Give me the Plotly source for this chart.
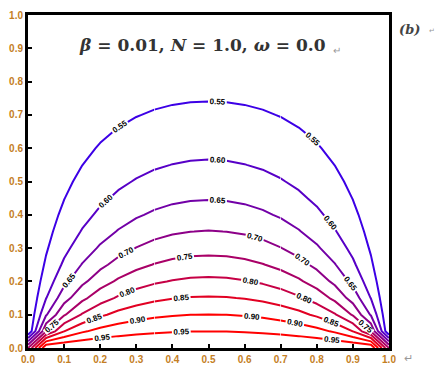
import numpy as np
import plotly.graph_objects as go

# ---- data ----
levels = [0.55, 0.60, 0.65, 0.70, 0.75, 0.80, 0.85, 0.90, 0.95]
bottom_value = 1.0      # value on the lower wall (y = 0)
wall_value = 0.5        # value on the left, right and top walls
n_nodes = 21            # grid nodes per direction (spacing 0.05)
x_ticks = [0.0, 0.1, 0.2, 0.3, 0.4, 0.5, 0.6, 0.7, 0.8, 0.9, 1.0]
y_ticks = [0.0, 0.1, 0.2, 0.3, 0.4, 0.5, 0.6, 0.7, 0.8, 0.9, 1.0]
title_text = "<b><i>β</i> = 0.01, <i>N</i> = 1.0, <i>ω</i> = 0.0</b>"
panel_text = "<b><i>(b)</i></b>"

# ---- steady field on the grid (Laplace solution for these wall values) ----
xs = np.linspace(0, 1, n_nodes)
ys = np.linspace(0, 1, n_nodes)
X, Y = np.meshgrid(xs, ys)
u = np.zeros_like(X)
for n in range(1, 400, 2):
    ratio = np.exp(-n * np.pi * Y) * (1 - np.exp(-2 * n * np.pi * (1 - Y))) / (1 - np.exp(-2 * n * np.pi))
    u += 4 / (n * np.pi) * np.sin(n * np.pi * X) * ratio
Z = wall_value + (bottom_value - wall_value) * u
Z[0, :] = bottom_value
Z[:, 0] = wall_value
Z[:, -1] = wall_value
Z[-1, :] = wall_value
Z[0, 0] = Z[0, -1] = (bottom_value + wall_value) / 2

fig = go.Figure()
# the field is drawn in three column bands so that each band carries its own labels
bands = [(0, 7), (7, 14), (14, n_nodes - 1)]
for i0, i1 in bands:
    fig.add_trace(go.Contour(
        x=xs[i0:i1 + 1], y=ys, z=Z[:, i0:i1 + 1],
        zmin=levels[0], zmax=levels[-1],
        contours=dict(start=levels[0], end=levels[-1], size=0.05, coloring="lines",
                      showlabels=True,
                      labelfont=dict(size=8, color="black", family="Liberation Sans", weight="bold"),
                      labelformat=".2f"),
        colorscale=[[0, "rgb(60,0,230)"], [0.5, "rgb(155,0,120)"], [1, "rgb(255,0,0)"]],
        line=dict(width=2, smoothing=0),
        showscale=False,
        hoverinfo="skip",
    ))

axis_common = dict(range=[0, 1], showline=True, linewidth=3, linecolor="black", mirror=True,
                   ticks="inside", ticklen=4, tickwidth=2, tickcolor="black",
                   showgrid=False, zeroline=False, tickformat=".1f",
                   tickfont=dict(size=10, color="#c47e24", family="Liberation Sans", weight="bold"))
fig.update_xaxes(tickvals=x_ticks, **axis_common)
fig.update_yaxes(tickvals=y_ticks, **axis_common)

fig.add_annotation(x=0.484, y=0.91, xref="paper", yref="paper", text=title_text, showarrow=False,
                   font=dict(size=17, color="#333333", family="DejaVu Serif"), xanchor="center", yanchor="middle")
fig.add_annotation(x=0.84, y=0.895, xref="paper", yref="paper", text="↵", showarrow=False,
                   font=dict(size=10, color="#999999"), xanchor="left", yanchor="middle")
fig.add_annotation(x=1.022, y=0.955, xref="paper", yref="paper", text=panel_text, showarrow=False,
                   font=dict(size=13, color="#444444", family="DejaVu Serif"), xanchor="left", yanchor="middle")
fig.add_annotation(x=1.105, y=0.952, xref="paper", yref="paper", text="↵", showarrow=False,
                   font=dict(size=7, color="#999999"), xanchor="left", yanchor="middle")
fig.add_annotation(x=1.035, y=-0.03, xref="paper", yref="paper", text="↵", showarrow=False,
                   font=dict(size=11, color="#999999"), xanchor="left", yanchor="middle")

fig.update_layout(width=436, height=374, margin=dict(l=25, r=47, t=9, b=19),
                  paper_bgcolor="white", plot_bgcolor="white", showlegend=False)
fig.write_html("out.html")
